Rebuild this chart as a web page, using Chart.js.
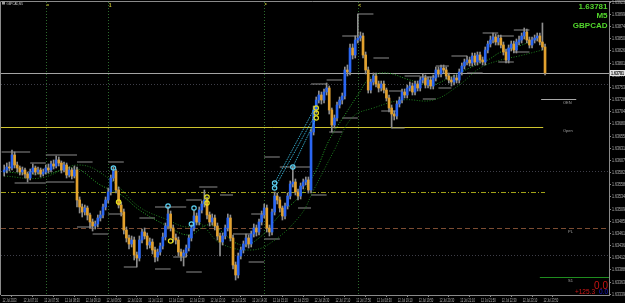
<!DOCTYPE html>
<html>
<head>
<meta charset="utf-8">
<script src="https://cdn.jsdelivr.net/npm/chart.js@4/dist/chart.umd.min.js"></script>
<style>
  html, body { margin: 0; padding: 0; background: #000; overflow: hidden; }
  canvas { display: block; }
</style>
</head>
<body>
<canvas id="mt" width="625" height="303"></canvas>
<script>
// GBPCAD M5 candles
const firstOpen = 1.63583;
const closes = [
  1.63587,1.63593,1.63591,1.63617,1.63597,1.63591,1.63583,1.63587,1.63579,1.63571,
  1.63583,1.63591,1.63583,1.63587,1.63579,1.63583,1.63591,1.63587,1.63599,1.63595,
  1.63607,1.63601,1.63587,1.63597,1.63577,1.63587,1.63575,1.63587,1.63527,1.63513,
  1.63503,1.63511,1.63497,1.63483,1.63475,1.63479,1.63491,1.63497,1.63513,1.63527,
  1.63543,1.63571,1.63585,1.63547,1.63517,1.63503,1.63467,1.63451,1.63439,1.63447,
  1.63417,1.63411,1.63447,1.63463,1.63455,1.63437,1.63443,1.63427,1.63413,1.63423,
  1.63435,1.63453,1.63475,1.63499,1.63471,1.63451,1.63447,1.63423,1.63415,1.63421,
  1.63431,1.63451,1.63471,1.63495,1.63483,1.63507,1.63519,1.63527,1.63497,1.63483,
  1.63491,1.63475,1.63455,1.63443,1.63455,1.63471,1.63491,1.63451,1.63397,1.63377,
  1.63415,1.63427,1.63439,1.63451,1.63439,1.63459,1.63471,1.63463,1.63483,1.63497,
  1.63511,1.63471,1.63463,1.63503,1.63535,1.63527,1.63511,1.63495,1.63515,1.63535,
  1.63559,1.63563,1.63543,1.63535,1.63555,1.63563,1.63567,1.63547,1.63663,1.63707,
  1.63727,1.63737,1.63727,1.63743,1.63751,1.63707,1.63677,1.63691,1.63717,1.63727,
  1.63735,1.63787,1.63783,1.63831,1.63817,1.63847,1.63851,1.63855,1.63817,1.63787,
  1.63747,1.63763,1.63775,1.63759,1.63751,1.63759,1.63747,1.63731,1.63711,1.63699,
  1.63695,1.63719,1.63727,1.63743,1.63737,1.63751,1.63755,1.63743,1.63759,1.63751,
  1.63767,1.63771,1.63757,1.63767,1.63755,1.63771,1.63787,1.63779,1.63791,1.63787,
  1.63775,1.63767,1.63763,1.63771,1.63767,1.63783,1.63795,1.63803,1.63807,1.63801,
  1.63815,1.63803,1.63817,1.63807,1.63803,1.63827,1.63839,1.63847,1.63853,1.63843,
  1.63851,1.63837,1.63823,1.63807,1.63831,1.63839,1.63827,1.63843,1.63847,1.63855,
  1.63863,1.63847,1.63837,1.63847,1.63851,1.63855,1.63843,1.63833,1.63781
];
const highs = [
  1.63597,1.63601,1.63603,1.63627,1.63623,1.63603,1.63595,1.63593,1.63591,1.63583,
  1.63589,1.63599,1.63595,1.63593,1.63591,1.63589,1.63597,1.63599,1.63605,1.63607,
  1.63615,1.63613,1.63605,1.63603,1.63601,1.63593,1.63591,1.63595,1.63593,1.63533,
  1.63519,1.63517,1.63515,1.63501,1.63489,1.63485,1.63497,1.63505,1.63519,1.63533,
  1.63551,1.63577,1.63593,1.63589,1.63553,1.63523,1.63509,1.63473,1.63457,1.63455,
  1.63453,1.63423,1.63455,1.63469,1.63471,1.63461,1.63451,1.63449,1.63433,1.63429,
  1.63441,1.63461,1.63481,1.63513,1.63505,1.63477,1.63459,1.63453,1.63429,1.63427,
  1.63437,1.63457,1.63477,1.63507,1.63501,1.63513,1.63525,1.63547,1.63533,1.63503,
  1.63499,1.63497,1.63481,1.63461,1.63461,1.63477,1.63499,1.63497,1.63457,1.63403,
  1.63421,1.63433,1.63445,1.63459,1.63457,1.63465,1.63479,1.63477,1.63489,1.63505,
  1.63519,1.63517,1.63477,1.63509,1.63543,1.63541,1.63533,1.63515,1.63521,1.63541,
  1.63565,1.63593,1.63569,1.63549,1.63561,1.63569,1.63573,1.63573,1.63669,1.63715,
  1.63733,1.63745,1.63743,1.63749,1.63761,1.63755,1.63711,1.63697,1.63723,1.63733,
  1.63741,1.63793,1.63797,1.63839,1.63839,1.63855,1.63899,1.63863,1.63861,1.63823,
  1.63793,1.63769,1.63781,1.63781,1.63765,1.63765,1.63765,1.63751,1.63737,1.63717,
  1.63705,1.63725,1.63733,1.63749,1.63749,1.63757,1.63763,1.63761,1.63765,1.63765,
  1.63773,1.63779,1.63777,1.63773,1.63773,1.63777,1.63793,1.63793,1.63797,1.63797,
  1.63793,1.63781,1.63773,1.63777,1.63777,1.63789,1.63801,1.63809,1.63815,1.63813,
  1.63821,1.63821,1.63823,1.63823,1.63813,1.63833,1.63845,1.63855,1.63861,1.63859,
  1.63857,1.63857,1.63843,1.63829,1.63837,1.63845,1.63845,1.63849,1.63855,1.63861,
  1.63871,1.63869,1.63853,1.63853,1.63857,1.63861,1.63861,1.63881,1.63839
];
const lows = [
  1.63575,1.63581,1.63585,1.63587,1.63591,1.63583,1.63577,1.63577,1.63571,1.63563,
  1.63567,1.63579,1.63577,1.63579,1.63573,1.63575,1.63579,1.63581,1.63583,1.63589,
  1.63591,1.63595,1.63581,1.63583,1.63571,1.63573,1.63569,1.63571,1.63513,1.63501,
  1.63493,1.63497,1.63487,1.63471,1.63465,1.63469,1.63473,1.63485,1.63491,1.63507,
  1.63521,1.63537,1.63565,1.63541,1.63511,1.63495,1.63459,1.63443,1.63429,1.63433,
  1.63407,1.63393,1.63405,1.63441,1.63449,1.63429,1.63431,1.63419,1.63403,1.63405,
  1.63417,1.63429,1.63447,1.63469,1.63465,1.63443,1.63439,1.63415,1.63405,1.63395,
  1.63413,1.63425,1.63445,1.63465,1.63477,1.63477,1.63501,1.63513,1.63489,1.63475,
  1.63477,1.63467,1.63447,1.63415,1.63437,1.63449,1.63465,1.63445,1.63389,1.63367,
  1.63371,1.63409,1.63421,1.63433,1.63431,1.63433,1.63453,1.63455,1.63457,1.63477,
  1.63491,1.63463,1.63455,1.63457,1.63497,1.63519,1.63503,1.63487,1.63489,1.63509,
  1.63529,1.63553,1.63537,1.63527,1.63529,1.63549,1.63557,1.63541,1.63541,1.63657,
  1.63701,1.63721,1.63719,1.63721,1.63737,1.63699,1.63663,1.63671,1.63685,1.63711,
  1.63719,1.63729,1.63775,1.63777,1.63809,1.63811,1.63841,1.63845,1.63811,1.63779,
  1.63741,1.63741,1.63757,1.63753,1.63743,1.63745,1.63741,1.63725,1.63703,1.63671,
  1.63687,1.63689,1.63713,1.63721,1.63731,1.63731,1.63745,1.63737,1.63737,1.63745,
  1.63745,1.63761,1.63751,1.63751,1.63749,1.63749,1.63765,1.63773,1.63773,1.63781,
  1.63769,1.63761,1.63755,1.63757,1.63761,1.63761,1.63777,1.63789,1.63797,1.63795,
  1.63795,1.63797,1.63797,1.63801,1.63797,1.63797,1.63821,1.63833,1.63841,1.63837,
  1.63837,1.63831,1.63817,1.63801,1.63801,1.63825,1.63821,1.63821,1.63837,1.63841,
  1.63849,1.63841,1.63831,1.63831,1.63841,1.63845,1.63837,1.63827,1.63777
];

// green dotted averages (bar index / price)
const maFastIdx = [0,16,27,37,45,52,62,71,79,91,98,106,114,120,125,131,136,141,147,156,164,171,179,186,191,198,206];
const maFastPrice = [1.63583,1.63579,1.63591,1.63557,1.63537,1.63507,1.63477,1.63457,1.63477,1.63437,1.63451,1.63497,1.63537,1.63587,1.63647,1.63697,1.63737,1.63773,1.63781,1.63767,1.63757,1.63771,1.63791,1.63807,1.63823,1.63835,1.63851];
const maSlowIdx = [0,14,29,41,52,63,70,75,83,95,103,114,119,127,134,142,153,165,175,183,191,198,207];
const maSlowPrice = [1.63575,1.63571,1.63597,1.63567,1.63513,1.63487,1.63473,1.63481,1.63441,1.63427,1.63443,1.63497,1.63547,1.63627,1.63693,1.63711,1.63727,1.63727,1.63757,1.63791,1.63807,1.63815,1.63827];

// fractal level stubs
const fracStart = [-1,16,4,10,16,28,28,34,40,40,46,52,58,58,65,70,70,75,83,88,95,94,100,100,106,113,118,125,118,124,130,130,136,142,145,148,149,154,160,161,166,167,172,178,184,190,190,196,196];
const fracEnd   = [10,28,16,16,27,34,34,40,46,46,51,58,64,70,70,76,76,82,88,95,100,100,106,106,118,118,124,130,124,130,136,136,142,148,151,153,154,160,166,166,171,172,178,184,190,196,196,202,202];
const fracPrice = [1.63623,1.63617,1.63561,1.63601,1.63563,1.63603,1.63473,1.63459,1.63603,1.63499,1.63393,1.63491,1.63389,1.63513,1.63413,1.63383,1.63527,1.63553,1.63537,1.63459,1.63499,1.63403,1.63613,1.63449,1.63593,1.63511,1.63537,1.63663,1.63759,1.63767,1.63691,1.63855,1.63899,1.63811,1.63705,1.63745,1.63671,1.63775,1.63773,1.63729,1.63795,1.63751,1.63815,1.63781,1.63861,1.63855,1.63803,1.63867,1.63823];

// cyan trend lines
const trendFromIdx = [104,104,111];
const trendFromPrice = [1.63561,1.63551,1.63593];
const trendToIdx = [119,120,120];
const trendToPrice = [1.63707,1.63701,1.63691];

// signal rings
const cyanIdx = [42,63,72,73,104,104,111];
const cyanPrice = [1.63591,1.63515,1.63479,1.63511,1.63561,1.63551,1.63593];
const yellowIdx = [44,64,78,78,120,120,120];
const yellowPrice = [1.63523,1.63445,1.63533,1.63521,1.63711,1.63701,1.63691];

// horizontal levels
const bidPrice = 1.63781;
const dotLevels = [1.63759,1.63585,1.63417];
const openLevel = 1.63673;
const oenLevel = 1.63729;
const dashDotLevel = 1.63543;
const plLevel = 1.63471;
const s1Level = 1.63373;

const sepBars = [16,40,100,136];
const sepMarks = ["=","1","*","<"];

const timeLabels = ["12 Jul 2023","12 Jul 07:10","12 Jul 07:50","12 Jul 08:30","12 Jul 09:10","12 Jul 09:50",
  "12 Jul 10:30","12 Jul 11:10","12 Jul 11:50","12 Jul 12:30","12 Jul 13:10","12 Jul 13:50","12 Jul 14:30",
  "12 Jul 15:10","12 Jul 15:50","12 Jul 16:30","12 Jul 17:10","12 Jul 17:50","12 Jul 18:30","12 Jul 19:10",
  "12 Jul 19:50","12 Jul 20:30","12 Jul 21:10","12 Jul 21:50","12 Jul 22:30","12 Jul 23:10","12 Jul 23:50"];
const priceTicks = [1.63923,1.63899,1.63874,1.63850,1.63826,1.63801,1.63777,1.63753,1.63728,1.63704,
  1.63680,1.63655,1.63631,1.63607,1.63582,1.63558,1.63534,1.63509,1.63485,1.63461,1.63436,1.63412,
  1.63388,1.63363,1.63339];

const BLUE = "#2a66f2";
const ORANGE = "#e2a12e";
const WICK = "#8e8e8e";
const FONT = "'Liberation Sans', Arial, sans-serif";

const opens = closes.map((c, i) => (i === 0 ? firstOpen : closes[i - 1]));

const fracData = [];
fracPrice.forEach((p, k) => {
  fracData.push({ x: fracStart[k], y: p }, { x: fracEnd[k], y: p }, { x: fracEnd[k], y: null });
});
const trendData = [];
trendFromIdx.forEach((s, k) => {
  trendData.push({ x: s, y: trendFromPrice[k] }, { x: trendToIdx[k], y: trendToPrice[k] }, { x: trendToIdx[k], y: null });
});

function hLine(ctx, xs, x1, x2, p, color, dash) {
  const y = Math.round(xs.y.getPixelForValue(p)) + 0.5;
  ctx.strokeStyle = color;
  ctx.setLineDash(dash || []);
  ctx.beginPath();
  ctx.moveTo(x1, y);
  ctx.lineTo(x2, y);
  ctx.stroke();
  return y;
}

const mtDecor = {
  id: "mtDecor",
  beforeDraw(chart) {
    const ctx = chart.ctx;
    ctx.save();
    ctx.fillStyle = "#000";
    ctx.fillRect(0, 0, chart.width, chart.height);
    ctx.restore();
  },
  beforeDatasetsDraw(chart) {
    const { ctx, chartArea: a, scales } = chart;
    const x = scales.x;
    ctx.save();
    ctx.lineWidth = 1;
    // session separators
    sepBars.forEach((b) => {
      const px = Math.round(x.getPixelForValue(b)) + 0.5;
      ctx.strokeStyle = "#2c6a2c";
      ctx.setLineDash([1, 2]);
      ctx.beginPath();
      ctx.moveTo(px, a.top);
      ctx.lineTo(px, a.bottom);
      ctx.stroke();
    });
    dotLevels.forEach((p) => hLine(ctx, scales, a.left, a.right, p, "#3e3e48", [1, 2]));
    hLine(ctx, scales, a.left, x.getPixelForValue(208), dashDotLevel, "#a3a318", [5, 2, 1, 2]);
    hLine(ctx, scales, a.left, a.right, plLevel, "#7c4c32", [5, 3]);
    hLine(ctx, scales, a.left, x.getPixelForValue(207.3), openLevel, "#cfc52e");
    hLine(ctx, scales, x.getPixelForValue(206.5), x.getPixelForValue(220), oenLevel, "#a8a8a8");
    hLine(ctx, scales, x.getPixelForValue(206), a.right, s1Level, "#1f8c1f");
    hLine(ctx, scales, a.left, a.right, bidPrice, "#a4a4a4");
    ctx.restore();
  },
  afterDraw(chart) {
    const { ctx, chartArea: a, scales } = chart;
    const x = scales.x, y = scales.y;
    ctx.save();
    ctx.setLineDash([]);
    ctx.strokeStyle = "#8a8a8a";
    ctx.lineWidth = 1;
    ctx.beginPath();
    ctx.moveTo(0.5, a.bottom);
    ctx.lineTo(0.5, 1.5);
    ctx.lineTo(chart.width, 1.5);
    ctx.stroke();

    // time axis labels (condensed, like the downscaled MT4 font)
    ctx.fillStyle = "#b4b4b4";
    ctx.font = "4.5px " + FONT;
    ctx.textBaseline = "alphabetic";
    timeLabels.forEach((t, k) => {
      const px = x.getPixelForValue(8 * k - 1);
      ctx.save();
      ctx.translate(px + 1, 301.5);
      ctx.scale(0.6, 1);
      ctx.fillText(t, 0, 0);
      ctx.restore();
    });
    // price axis labels
    priceTicks.forEach((v) => {
      const py = y.getPixelForValue(v);
      ctx.save();
      ctx.translate(612, py + 1.6);
      ctx.scale(0.8, 1);
      ctx.fillText(v.toFixed(5), 0, 0);
      ctx.restore();
    });
    // bid box
    const by = y.getPixelForValue(bidPrice);
    ctx.fillStyle = "#e4e4e4";
    ctx.fillRect(610, by - 3, 15, 6);
    ctx.fillStyle = "#000";
    ctx.save();
    ctx.translate(611, by + 1.7);
    ctx.scale(0.8, 1);
    ctx.font = "bold 4.5px " + FONT;
    ctx.fillText(bidPrice.toFixed(5), 0, 0);
    ctx.restore();

    // top left header
    ctx.fillStyle = "#9a9a9a";
    ctx.fillRect(2, 1.5, 3, 3);
    ctx.fillStyle = "#cfcfcf";
    ctx.save();
    ctx.translate(6.5, 5);
    ctx.scale(0.7, 1);
    ctx.font = "4px " + FONT;
    ctx.fillText("GBPCAD,M5", 0, 0);
    ctx.restore();

    // separator marks
    ctx.fillStyle = "#c8c034";
    ctx.font = "bold 5px " + FONT;
    sepBars.forEach((b, k) => {
      ctx.fillText(sepMarks[k], x.getPixelForValue(b) + 0.5, 6.5);
    });

    // level labels
    ctx.fillStyle = "#a0a0a0";
    ctx.font = "4px " + FONT;
    ctx.fillText("OEN", 563, y.getPixelForValue(oenLevel) + 4.5);
    ctx.fillText("Open", 563, y.getPixelForValue(openLevel) + 4.5);
    ctx.fillText("PL", 568, y.getPixelForValue(plLevel) + 5);
    ctx.fillText("S1", 568, y.getPixelForValue(s1Level) + 4.5);

    // symbol info
    ctx.fillStyle = "#52d62c";
    ctx.font = "bold 8px " + FONT;
    ctx.textAlign = "right";
    ctx.fillText(bidPrice.toFixed(5), 607.5, 8.8);
    ctx.fillText("M5", 607.5, 17.8);
    ctx.fillText("GBPCAD", 607.5, 28.2);

    // profit box
    ctx.fillStyle = "#c81414";
    ctx.font = "10px " + FONT;
    ctx.fillText("0.0", 608, 288.5);
    ctx.font = "6.5px " + FONT;
    ctx.fillStyle = "#d01818";
    ctx.fillText("+125.3", 595, 293.5);
    ctx.fillStyle = "#1a1ad6";
    ctx.fillText("0.0", 608, 293.5);
    ctx.restore();
  }
};

new Chart(document.getElementById("mt"), {
  type: "bar",
  data: {
    datasets: [
      {
        type: "line",
        data: fracData,
        borderColor: "#8c8c8c",
        borderWidth: 1,
        pointRadius: 0,
        spanGaps: false,
        order: 6
      },
      {
        type: "line",
        data: maSlowIdx.map((v, i) => ({ x: v, y: maSlowPrice[i] })),
        borderColor: "#1d7d1d",
        borderWidth: 1,
        borderDash: [1, 1.6],
        pointRadius: 0,
        tension: 0.4,
        order: 5
      },
      {
        type: "line",
        data: maFastIdx.map((v, i) => ({ x: v, y: maFastPrice[i] })),
        borderColor: "#27a527",
        borderWidth: 1,
        borderDash: [1, 1.6],
        pointRadius: 0,
        tension: 0.4,
        order: 5
      },
      {
        data: closes.map((c, i) => ({ x: i, y: [lows[i], highs[i]] })),
        backgroundColor: WICK,
        barThickness: 1,
        grouped: false,
        order: 4
      },
      {
        data: closes.map((c, i) => ({ x: i, y: [opens[i], c] })),
        backgroundColor: closes.map((c, i) => (c >= opens[i] ? BLUE : ORANGE)),
        barThickness: 2,
        minBarLength: 1,
        grouped: false,
        order: 3
      },
      {
        type: "line",
        data: trendData,
        borderColor: "#3cc4ea",
        borderWidth: 1,
        borderDash: [1, 1],
        pointRadius: 0,
        spanGaps: false,
        order: 2
      },
      {
        type: "line",
        data: cyanIdx.map((v, i) => ({ x: v, y: cyanPrice[i] })),
        showLine: false,
        pointRadius: 2.2,
        pointBorderWidth: 1.2,
        pointBorderColor: "#5ccff0",
        pointBackgroundColor: "rgba(0,0,0,0)",
        order: 1
      },
      {
        type: "line",
        data: yellowIdx.map((v, i) => ({ x: v, y: yellowPrice[i] })),
        showLine: false,
        pointRadius: 2.2,
        pointBorderWidth: 1.2,
        pointBorderColor: "#e6e01e",
        pointBackgroundColor: "rgba(0,0,0,0)",
        order: 1
      }
    ]
  },
  options: {
    responsive: false,
    animation: false,
    devicePixelRatio: 1,
    events: [],
    layout: { autoPadding: false, padding: { left: 1, top: 2, right: 0, bottom: 0 } },
    plugins: { legend: { display: false }, tooltip: { enabled: false } },
    scales: {
      x: {
        type: "linear",
        offset: false,
        min: -1.23,
        max: 232.6,
        afterBuildTicks: (s) => { s.ticks = timeLabels.map((t, k) => ({ value: 8 * k - 1 })); },
        afterFit: (s) => { s.height = 8; },
        ticks: { display: false },
        grid: { display: true, drawOnChartArea: false, drawTicks: true, tickLength: 2, color: "#8a8a8a" },
        border: { display: true, color: "#8a8a8a" }
      },
      y: {
        type: "linear",
        position: "right",
        min: 1.63337,
        max: 1.63923,
        beginAtZero: false,
        afterBuildTicks: (s) => { s.ticks = priceTicks.map((v) => ({ value: v })); },
        afterFit: (s) => { s.width = 16; },
        ticks: { display: false },
        grid: { display: true, drawOnChartArea: false, drawTicks: true, tickLength: 2, color: "#8a8a8a" },
        border: { display: true, color: "#8a8a8a" }
      }
    }
  },
  plugins: [mtDecor]
});
</script>
</body>
</html>
